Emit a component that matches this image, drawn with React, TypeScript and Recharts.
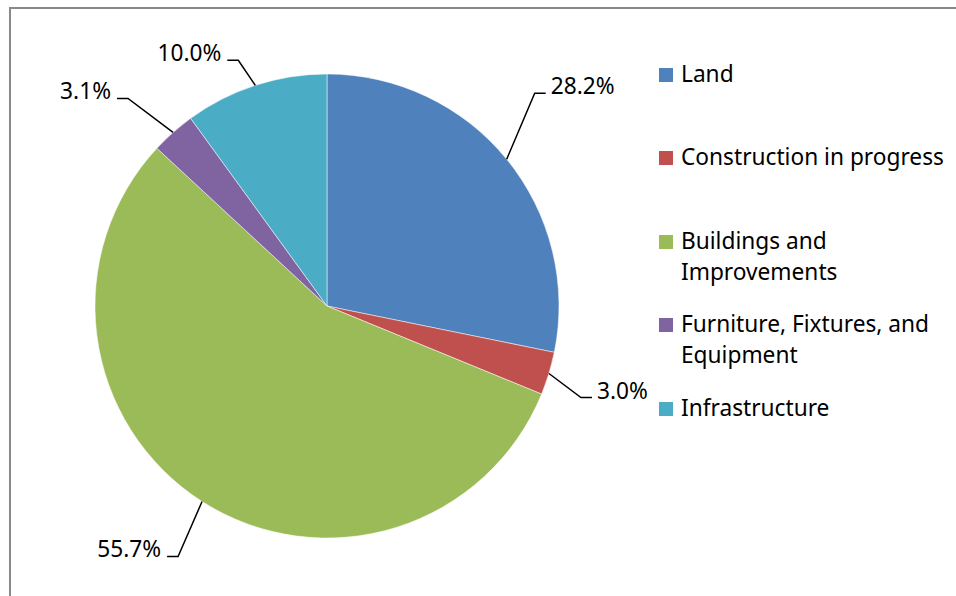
import React from 'react';
import { PieChart, Pie, Cell, Legend } from 'recharts';

const categories = [
  'Land',
  'Construction in progress',
  'Buildings and Improvements',
  'Furniture, Fixtures, and Equipment',
  'Infrastructure',
];
const shares = [28.2, 3.0, 55.7, 3.1, 10.0];
const colors = ['#4F81BD', '#C0504D', '#9BBB59', '#8064A2', '#4BACC6'];

// leader elbow offsets (styling) relative to slice edge point
const leaderOffsets = [
  [28, -66],
  [32, 24],
  [-24, 55],
  [-45, -34],
  [-17, -25],
];

const data = categories.map((name, i) => ({ name, value: shares[i] }));

const FONT = '"Noto Sans", sans-serif';
const FS = 22.7;
const RAD = Math.PI / 180;

const renderLabel = (props: any) => {
  const { cx, cy, midAngle, outerRadius, index, value } = props;
  const px = cx + outerRadius * Math.cos(-midAngle * RAD);
  const py = cy + outerRadius * Math.sin(-midAngle * RAD);
  const [dx, dy] = leaderOffsets[index];
  const ex = px + dx;
  const ey = py + dy;
  const right = dx > 0;
  const hx = ex + (right ? 11 : -11);
  const tx = hx + (right ? 5 : -6);
  return (
    <g>
      <polyline
        points={`${px},${py} ${ex},${ey} ${hx},${ey}`}
        fill="none"
        stroke="#000"
        strokeWidth={1.5}
      />
      <text
        x={tx}
        y={ey + 1}
        textAnchor={right ? 'start' : 'end'}
        fontFamily={FONT}
        fontSize={FS}
        fill="#000"
      >
        {Number(value).toFixed(1)}%
      </text>
    </g>
  );
};

const renderLegend = (props: any) => {
  const payload = [...(props.payload || [])].sort(
    (a: any, b: any) => categories.indexOf(a.value) - categories.indexOf(b.value)
  );
  return (
    <div style={{ fontFamily: FONT, fontSize: FS, color: '#000' }}>
      {payload.map((entry: any, i: number) => (
        <div
          key={i}
          style={{ display: 'flex', alignItems: 'flex-start', height: 83.5 }}
        >
          <div
            style={{
              width: 14,
              height: 14,
              background: entry.color,
              marginTop: 10,
              marginRight: 8,
              flex: 'none',
            }}
          />
          <div style={{ width: 272, lineHeight: '31px' }}>{entry.value}</div>
        </div>
      ))}
    </div>
  );
};

export default function App() {
  return (
    <div
      style={{
        position: 'absolute',
        left: 0,
        top: 0,
        width: 956,
        height: 596,
        overflow: 'hidden',
        background: '#fff',
      }}
    >
      <div
        style={{
          position: 'absolute',
          left: 9,
          top: 7,
          width: 980,
          height: 620,
          border: '2px solid #898989',
        }}
      />
      <div style={{ position: 'absolute', left: 0, top: 0 }}>
        <PieChart
          width={956}
          height={596}
          margin={{ top: 0, right: 0, bottom: 0, left: 0 }}
        >
          <Pie
            data={data}
            dataKey="value"
            nameKey="name"
            cx={327}
            cy={306}
            outerRadius={232}
            startAngle={90}
            endAngle={-270}
            label={renderLabel}
            labelLine={false}
            stroke="#fff"
            strokeWidth={0.5}
            isAnimationActive={false}
          >
            {data.map((d, i) => (
              <Cell key={d.name} fill={colors[i]} />
            ))}
          </Pie>
          <Legend
            layout="vertical"
            align="right"
            verticalAlign="top"
            content={renderLegend}
            wrapperStyle={{ left: 659, top: 57.5, width: 297 }}
          />
        </PieChart>
      </div>
    </div>
  );
}
